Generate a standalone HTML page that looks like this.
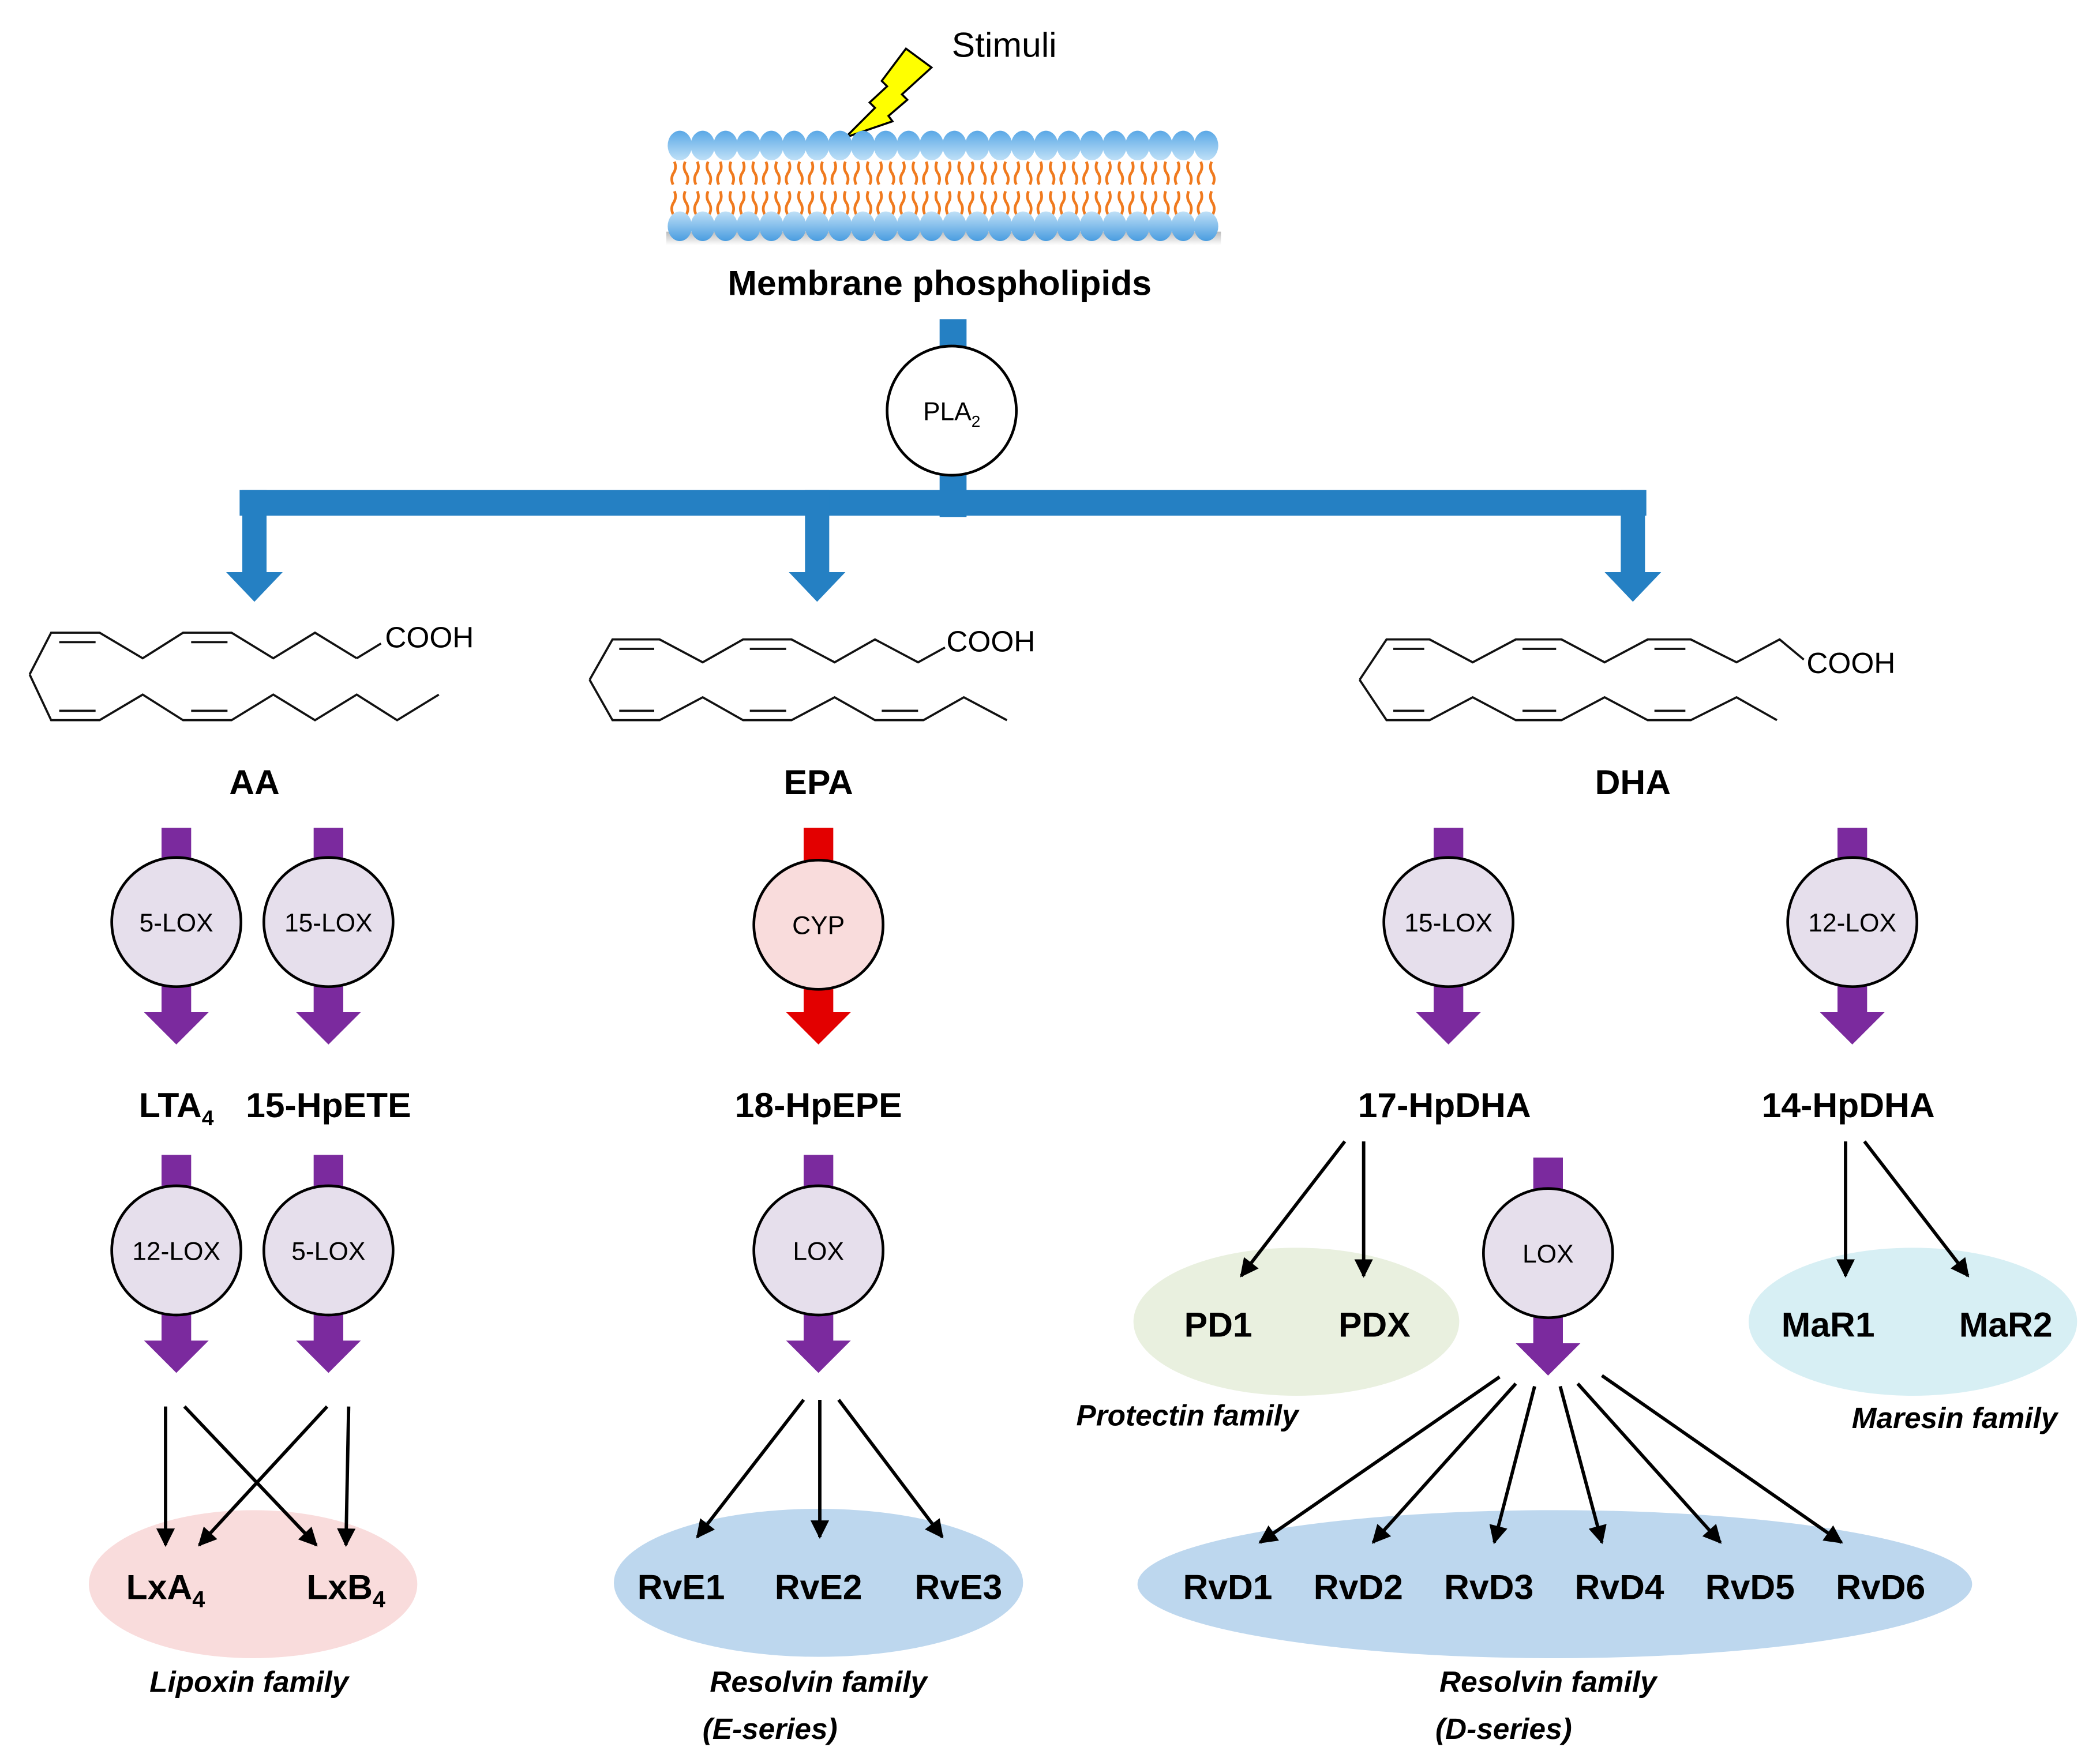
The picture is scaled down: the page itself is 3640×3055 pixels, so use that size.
<!DOCTYPE html>
<html><head><meta charset="utf-8"><style>
html,body{margin:0;padding:0;background:#fff;}
svg{display:block;}
text{font-family:"Liberation Sans",sans-serif;}
.b{font-weight:bold;font-size:26px;text-anchor:middle;}
.e{font-size:19px;text-anchor:middle;}
.f{font-weight:bold;font-style:italic;font-size:22px;text-anchor:middle;}
.ch{fill:none;stroke:#111;stroke-width:1.6;}
</style></head><body>
<svg width="3640" height="3055" viewBox="0 0 1560 1309" xmlns="http://www.w3.org/2000/svg">
<defs>
<marker id="ah" viewBox="0 0 10 10" refX="9" refY="5" markerWidth="6" markerHeight="5.5" orient="auto" markerUnits="strokeWidth"><path d="M0,0 L10,5 L0,10 z" fill="#000"/></marker>
<linearGradient id="hg" x1="0" y1="0" x2="0" y2="1"><stop offset="0" stop-color="#5aa8e6"/><stop offset="1" stop-color="#bfe0f7"/></linearGradient>
<linearGradient id="hg2" x1="0" y1="0" x2="0" y2="1"><stop offset="0" stop-color="#bfe0f7"/><stop offset="1" stop-color="#4a9de0"/></linearGradient>
<linearGradient id="sh" x1="0" y1="0" x2="0" y2="1"><stop offset="0" stop-color="#bbb"/><stop offset="1" stop-color="#fff"/></linearGradient>
<g id="lip">
<ellipse cx="0" cy="108" rx="9" ry="11" fill="url(#hg)"/>
<path d="M-4,120 q2,5 -1,9 q-2,4 0,8 M4,120 q-2,5 1,9 q2,4 0,8 M-4,142 q2,5 -1,9 q-2,4 0,8 M4,142 q-2,5 1,9 q2,4 0,8" fill="none" stroke="#f07a1e" stroke-width="2"/>
<ellipse cx="0" cy="168" rx="9" ry="11" fill="url(#hg2)"/>
</g>
</defs>

<text x="707" y="42" font-size="26">Stimuli</text>
<path d="M673,36 L692,50 L670,70 L674,74 L660,86 L663,90 L628,102 L650,80 L646,76 L659,64 L655,60 Z" fill="#ffff00" stroke="#000" stroke-width="1.5"/>

<rect x="495" y="172" width="412" height="10" fill="url(#sh)"/>
<use href="#lip" x="505"/><use href="#lip" x="522"/><use href="#lip" x="539"/><use href="#lip" x="556"/><use href="#lip" x="573"/><use href="#lip" x="590"/><use href="#lip" x="607"/><use href="#lip" x="624"/><use href="#lip" x="641"/><use href="#lip" x="658"/><use href="#lip" x="675"/><use href="#lip" x="692"/><use href="#lip" x="709"/><use href="#lip" x="726"/><use href="#lip" x="743"/><use href="#lip" x="760"/><use href="#lip" x="777"/><use href="#lip" x="794"/><use href="#lip" x="811"/><use href="#lip" x="828"/><use href="#lip" x="845"/><use href="#lip" x="862"/><use href="#lip" x="879"/><use href="#lip" x="896"/>
<text x="698" y="219" class="b" font-size="27">Membrane phospholipids</text>

<g fill="#2580c3">
<rect x="698" y="237" width="20" height="24"/>
<rect x="698" y="350" width="20" height="34"/>
<rect x="178" y="364" width="1045" height="19"/>
<rect x="180" y="364" width="18" height="62"/><path d="M168,425 L210,425 L189,447 Z"/>
<rect x="598" y="364" width="18" height="62"/><path d="M586,425 L628,425 L607,447 Z"/>
<rect x="1204" y="364" width="18" height="62"/><path d="M1192,425 L1234,425 L1213,447 Z"/>
</g>
<circle cx="707" cy="305" r="48" fill="#fff" stroke="#000" stroke-width="2"/>
<text x="707" y="312" class="e">PLA<tspan font-size="12" dy="5">2</tspan></text>

<path class="ch" d="M265,489 L283,478 M22,501 L38,470 L74,470 L106,489 L136,470 L172,470 L203,489 L234,470 L265,489 M22,501 L38,535 L74,535 L106,516 L136,535 L172,535 L203,516 L234,535 L265,516 L295,535 L326,516"/>
<path class="ch" d="M44,477 L71,477 M142,477 L169,477 M44,528 L71,528 M142,528 L169,528"/>
<text x="286" y="481" font-size="22">COOH</text>
<text x="189" y="590" class="b">AA</text>

<path class="ch" d="M438,505 L455,475 L490,475 L522,492 L552,475 L588,475 L620,492 L650,475 L682,492 L702,481 M438,505 L455,535 L490,535 L522,518 L552,535 L588,535 L620,518 L650,535 L686,535 L716,518 L748,535"/>
<path class="ch" d="M460,482 L486,482 M557,482 L584,482 M460,528 L486,528 M557,528 L584,528 M655,528 L682,528"/>
<text x="703" y="484" font-size="22">COOH</text>
<text x="608" y="590" class="b">EPA</text>

<path class="ch" d="M1010,505 L1030,475 L1062,475 L1094,492 L1126,475 L1160,475 L1192,492 L1224,475 L1256,475 L1290,492 L1322,475 L1340,490 M1010,505 L1030,535 L1062,535 L1094,518 L1126,535 L1160,535 L1192,518 L1224,535 L1256,535 L1290,518 L1320,535"/>
<path class="ch" d="M1035,482 L1058,482 M1131,482 L1156,482 M1229,482 L1252,482 M1035,528 L1058,528 M1131,528 L1156,528 M1229,528 L1252,528"/>
<text x="1342" y="500" font-size="22">COOH</text>
<text x="1213" y="590" class="b">DHA</text>

<g fill="#7b2a9e">
<rect x="120" y="615" width="22" height="28"/><rect x="120" y="728" width="22" height="26"/><path d="M107,752 L155,752 L131,776 Z"/>
<rect x="233" y="615" width="22" height="28"/><rect x="233" y="728" width="22" height="26"/><path d="M220,752 L268,752 L244,776 Z"/>
<rect x="1065" y="615" width="22" height="28"/><rect x="1065" y="728" width="22" height="26"/><path d="M1052,752 L1100,752 L1076,776 Z"/>
<rect x="1365" y="615" width="22" height="28"/><rect x="1365" y="728" width="22" height="26"/><path d="M1352,752 L1400,752 L1376,776 Z"/>
</g>
<g fill="#e30000">
<rect x="597" y="615" width="22" height="28"/><rect x="597" y="728" width="22" height="26"/><path d="M584,752 L632,752 L608,776 Z"/>
</g>
<g stroke="#000" stroke-width="2" fill="#e6dfec">
<circle cx="131" cy="685" r="48"/><circle cx="244" cy="685" r="48"/><circle cx="1076" cy="685" r="48"/><circle cx="1376" cy="685" r="48"/>
<circle cx="608" cy="687" r="48" fill="#f9dcdc"/>
</g>
<text x="131" y="692" class="e">5-LOX</text><text x="244" y="692" class="e">15-LOX</text>
<text x="608" y="694" class="e">CYP</text><text x="1076" y="692" class="e">15-LOX</text><text x="1376" y="692" class="e">12-LOX</text>

<text x="131" y="830" class="b">LTA<tspan font-size="16" dy="6">4</tspan></text>
<text x="244" y="830" class="b">15-HpETE</text>
<text x="608" y="830" class="b">18-HpEPE</text>
<text x="1073" y="830" class="b">17-HpDHA</text>
<text x="1373" y="830" class="b">14-HpDHA</text>

<g fill="#7b2a9e">
<rect x="120" y="858" width="22" height="28"/><rect x="120" y="972" width="22" height="26"/><path d="M107,996 L155,996 L131,1020 Z"/>
<rect x="233" y="858" width="22" height="28"/><rect x="233" y="972" width="22" height="26"/><path d="M220,996 L268,996 L244,1020 Z"/>
<rect x="597" y="858" width="22" height="28"/><rect x="597" y="972" width="22" height="26"/><path d="M584,996 L632,996 L608,1020 Z"/>
<rect x="1139" y="860" width="22" height="28"/><rect x="1139" y="974" width="22" height="26"/><path d="M1126,998 L1174,998 L1150,1022 Z"/>
</g>
<g stroke="#000" stroke-width="2" fill="#e6dfec">
<circle cx="131" cy="929" r="48"/><circle cx="244" cy="929" r="48"/><circle cx="608" cy="929" r="48"/><circle cx="1150" cy="931" r="48"/>
</g>
<text x="131" y="936" class="e">12-LOX</text><text x="244" y="936" class="e">5-LOX</text>
<text x="608" y="936" class="e">LOX</text><text x="1150" y="938" class="e">LOX</text>

<ellipse cx="188" cy="1177" rx="122" ry="55" fill="#f9dcdc"/>
<ellipse cx="608" cy="1176" rx="152" ry="55" fill="#bdd7ee"/>
<ellipse cx="963" cy="982" rx="121" ry="55" fill="#e9f0df"/>
<ellipse cx="1155" cy="1177" rx="310" ry="55" fill="#bdd7ee"/>
<ellipse cx="1421" cy="982" rx="122" ry="55" fill="#d7eff4"/>

<g stroke="#000" stroke-width="2.5" marker-end="url(#ah)">
<line x1="123" y1="1045" x2="123" y2="1148"/>
<line x1="137" y1="1045" x2="235" y2="1148"/>
<line x1="243" y1="1045" x2="148" y2="1148"/>
<line x1="259" y1="1045" x2="257" y2="1148"/>
<line x1="597" y1="1040" x2="518" y2="1142"/>
<line x1="609" y1="1040" x2="609" y2="1142"/>
<line x1="623" y1="1040" x2="700" y2="1142"/>
<line x1="999" y1="848" x2="922" y2="948"/>
<line x1="1013" y1="848" x2="1013" y2="948"/>
<line x1="1371" y1="848" x2="1371" y2="948"/>
<line x1="1385" y1="848" x2="1462" y2="948"/>
<line x1="1114" y1="1023" x2="936" y2="1146"/>
<line x1="1126" y1="1028" x2="1020" y2="1146"/>
<line x1="1140" y1="1030" x2="1110" y2="1146"/>
<line x1="1159" y1="1030" x2="1190" y2="1146"/>
<line x1="1172" y1="1028" x2="1278" y2="1146"/>
<line x1="1190" y1="1022" x2="1368" y2="1146"/>
</g>

<text x="123" y="1188" class="b">LxA<tspan font-size="17" dy="6">4</tspan></text>
<text x="257" y="1188" class="b">LxB<tspan font-size="17" dy="6">4</tspan></text>
<text x="506" y="1188" class="b">RvE1</text><text x="608" y="1188" class="b">RvE2</text><text x="712" y="1188" class="b">RvE3</text>
<text x="905" y="993" class="b">PD1</text><text x="1021" y="993" class="b">PDX</text>
<text x="1358" y="993" class="b">MaR1</text><text x="1490" y="993" class="b">MaR2</text>
<text x="912" y="1188" class="b">RvD1</text><text x="1009" y="1188" class="b">RvD2</text><text x="1106" y="1188" class="b">RvD3</text>
<text x="1203" y="1188" class="b">RvD4</text><text x="1300" y="1188" class="b">RvD5</text><text x="1397" y="1188" class="b">RvD6</text>

<text x="185" y="1257" class="f">Lipoxin family</text>
<text x="608" y="1257" class="f">Resolvin family</text>
<text x="572" y="1292" class="f">(E-series)</text>
<text x="882" y="1059" class="f">Protectin family</text>
<text x="1150" y="1257" class="f">Resolvin family</text>
<text x="1117" y="1292" class="f">(D-series)</text>
<text x="1452" y="1061" class="f">Maresin family</text>
</svg>
</body></html>
